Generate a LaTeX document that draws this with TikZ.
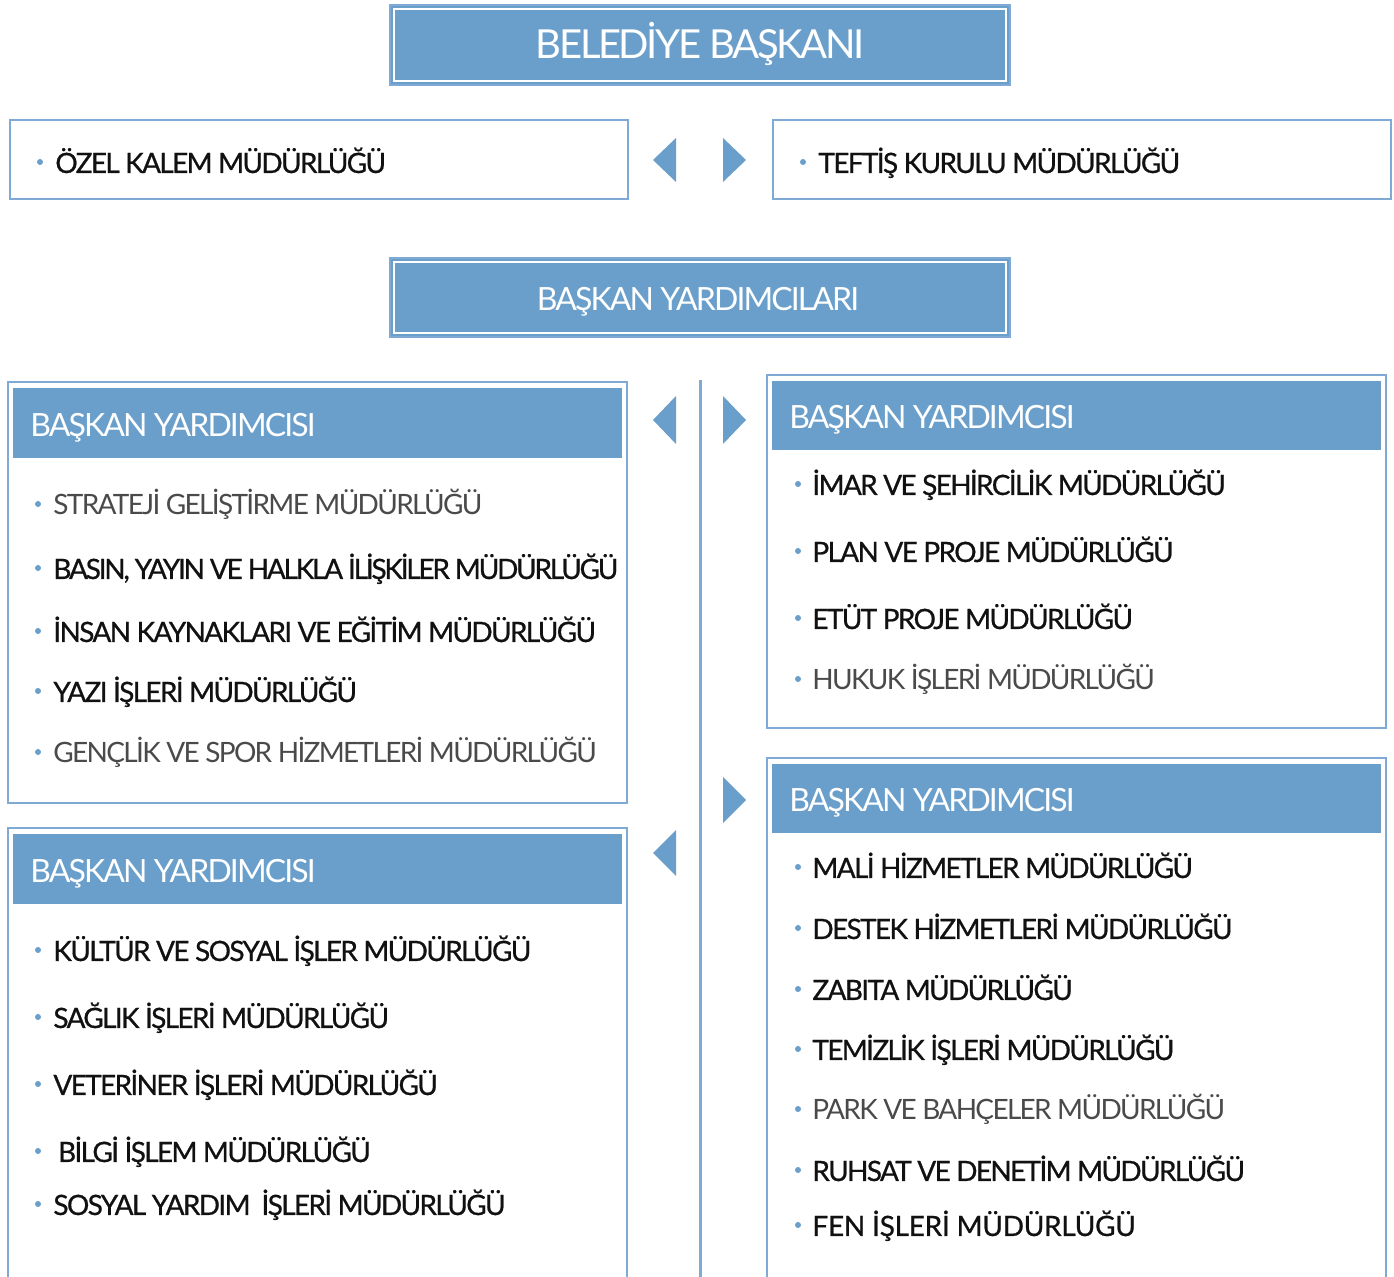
\documentclass[tikz,border=0pt]{standalone}
\usepackage{fontspec}
\setmainfont{Lato}[LetterSpace=-6]
\newfontfamily\darkfont{Lato}[LetterSpace=-6,FakeBold=0.7]
\definecolor{orgblue}{HTML}{6A9FCB}
\definecolor{orgline}{HTML}{7FAAD6}
\definecolor{itemdark}{HTML}{111111}
\definecolor{itemlight}{HTML}{4A4A4A}
\tikzset{
  frame/.style={draw=orgline,line width=1.3pt,fill=white},
  headfill/.style={fill=orgblue},
  headtext/.style={anchor=base west,inner sep=0pt,text=white,font=\fontsize{16}{18}\selectfont},
  toptext/.style={anchor=base,inner sep=0pt,text=white},
  unit/.style={anchor=base west,inner sep=0pt},
  dark/.style={text=itemdark,font=\darkfont\fontsize{14}{16}\selectfont},
  light/.style={text=itemlight,font=\fontsize{14}{16}\selectfont},
  dot/.style={circle,fill=orgblue,inner sep=0pt,minimum size=3pt},
  pointer/.style={fill=orgblue},
}
\begin{document}
\begin{tikzpicture}[x=0.5pt,y=-0.5pt]
\clip (0,0) rectangle (1394,1277);
\fill[white] (0,0) rectangle (1394,1277);
%
% top boxes
\fill[orgblue,draw=orgline,line width=1pt] (390,5) rectangle (1010,85);
\draw[white,line width=1pt] (394,9) rectangle (1006,81);
\node[toptext,font=\fontsize{20}{22}\selectfont] (baskan) at (700,59) {BELEDİYE BAŞKANI};
\fill[orgblue,draw=orgline,line width=1pt] (390,258) rectangle (1010,337);
\draw[white,line width=1pt] (394,262) rectangle (1006,333);
\node[toptext,font=\fontsize{16}{18}\selectfont] (yardimcilar) at (698,311) {BAŞKAN YARDIMCILARI};
%
\draw[frame] (10,120) rectangle (628,199);
\node[dot] (d-ozel) at (40,162) {};
\node[unit,dark] (ozel) at (55,173) {ÖZEL KALEM MÜDÜRLÜĞÜ};
\draw[frame] (773,120) rectangle (1391,199);
\node[dot] (d-teftis) at (803,162) {};
\node[unit,dark] (teftis) at (818,173) {TEFTİŞ KURULU MÜDÜRLÜĞÜ};
%
% pointers
\fill[pointer] (653,160)--(676,138)--(676,182)--cycle;
\fill[pointer] (746,160)--(723,138)--(723,182)--cycle;
\fill[pointer] (653,420)--(676,396)--(676,444)--cycle;
\fill[pointer] (746,420)--(723,396)--(723,444)--cycle;
\fill[pointer] (746,800)--(723,777)--(723,823)--cycle;
\fill[pointer] (653,853)--(676,830)--(676,876)--cycle;
%
\coordinate (vtop) at (700,380);
\coordinate (vbot) at (700,1290);
\draw[orgline,line width=1.5pt] (vtop)--(vbot);
%
% left group 1
\draw[frame] (8,382) rectangle (627,803);
\fill[headfill] (13,388) rectangle (622,458);
\node[headtext] (sol1) at (30,437) {BAŞKAN YARDIMCISI};
\foreach \y/\t/\c [count=\i] in {504/{STRATEJİ GELİŞTİRME MÜDÜRLÜĞÜ}/light,
  568/{\addfontfeature{LetterSpace=-8}BASIN, YAYIN VE HALKLA İLİŞKİLER MÜDÜRLÜĞÜ}/dark,
  631/{İNSAN KAYNAKLARI VE EĞİTİM MÜDÜRLÜĞÜ}/dark,
  691/{YAZI İŞLERİ MÜDÜRLÜĞÜ}/dark,
  752/{GENÇLİK VE SPOR HİZMETLERİ MÜDÜRLÜĞÜ}/light}{
  \node[dot] (sol1-d\i) at (38,\y) {};
  \node[unit,\c] (sol1-\i) at (53,\y+11) {\t};
}
%
% left group 2
\draw[frame] (8,828) rectangle (627,1300);
\fill[headfill] (13,834) rectangle (622,904);
\node[headtext] (sol2) at (30,883) {BAŞKAN YARDIMCISI};
\foreach \y/\t/\c [count=\i] in {950/{KÜLTÜR VE SOSYAL İŞLER MÜDÜRLÜĞÜ}/dark,
  1017/{SAĞLIK İŞLERİ MÜDÜRLÜĞÜ}/dark,
  1084/{VETERİNER İŞLERİ MÜDÜRLÜĞÜ}/dark,
  1151/{\,BİLGİ İŞLEM MÜDÜRLÜĞÜ}/dark,
  1204/{SOSYAL YARDIM\ \ İŞLERİ MÜDÜRLÜĞÜ}/dark}{
  \node[dot] (sol2-d\i) at (38,\y) {};
  \node[unit,\c] (sol2-\i) at (53,\y+11) {\t};
}
%
% right group 1
\draw[frame] (767,375) rectangle (1386,728);
\fill[headfill] (772,381) rectangle (1381,450);
\node[headtext] (sag1) at (789,429) {BAŞKAN YARDIMCISI};
\foreach \y/\t/\c [count=\i] in {484/{İMAR VE ŞEHİRCİLİK MÜDÜRLÜĞÜ}/dark,
  551/{PLAN VE PROJE MÜDÜRLÜĞÜ}/dark,
  618/{ETÜT PROJE MÜDÜRLÜĞÜ}/dark,
  679/{HUKUK İŞLERİ MÜDÜRLÜĞÜ}/light}{
  \node[dot] (sag1-d\i) at (798,\y) {};
  \node[unit,\c] (sag1-\i) at (812,\y+11) {\t};
}
%
% right group 2
\draw[frame] (767,758) rectangle (1386,1300);
\fill[headfill] (772,764) rectangle (1381,833);
\node[headtext] (sag2) at (789,812) {BAŞKAN YARDIMCISI};
\foreach \y/\t/\c [count=\i] in {867/{MALİ HİZMETLER MÜDÜRLÜĞÜ}/dark,
  928/{DESTEK HİZMETLERİ MÜDÜRLÜĞÜ}/dark,
  989/{ZABITA MÜDÜRLÜĞÜ}/dark,
  1049/{TEMİZLİK İŞLERİ MÜDÜRLÜĞÜ}/dark,
  1109/{PARK VE BAHÇELER MÜDÜRLÜĞÜ}/light,
  1170/{RUHSAT VE DENETİM MÜDÜRLÜĞÜ}/dark,
  1225/{\addfontfeature{LetterSpace=-1}FEN İŞLERİ MÜDÜRLÜĞÜ}/dark}{
  \node[dot] (sag2-d\i) at (798,\y) {};
  \node[unit,\c] (sag2-\i) at (812,\y+11) {\t};
}
\end{tikzpicture}
\end{document}
